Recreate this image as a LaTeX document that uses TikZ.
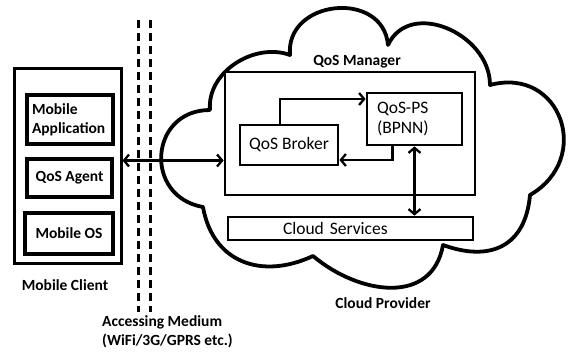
\documentclass[tikz,border=0pt]{standalone}
\usepackage{fontspec}
\setmainfont{Carlito}
\usetikzlibrary{arrows.meta}

\begin{document}
\begin{tikzpicture}[x=1pt,y=1pt,>={Straight Barb[length=5pt,width=12pt]}]
\tikzstyle{every node}+=[inner sep=0pt]
\tikzstyle{box}=[draw, line width=2.8pt, fill=white]
\tikzstyle{lbl}=[font=\fontsize{15.5}{19}\selectfont\bfseries]
\tikzstyle{txt}=[font=\fontsize{17.5}{20}\selectfont]
\tikzstyle{conn}=[line width=2.3pt]
\useasboundingbox (0,0) rectangle (571,-354);
\draw [line width=3.8pt, line cap=round, line join=round] (210,-110) to[out=95,in=160] (290,-55) to[out=95,in=95,looseness=1.45] (388,-45) to[out=65,in=90,looseness=1.2] (490,-85) to[out=15,in=30,looseness=1.6] (530,-195) to[out=-95,in=-20,looseness=1.3] (443,-245) to[out=-100,in=-40,looseness=1.2] (313,-256) to[out=-155,in=-80,looseness=1.2] (203,-207) to[out=170,in=180,looseness=1.6] (210,-110);
\coordinate (dla) at (138,-20);
\coordinate (dlb) at (138,-312);
\coordinate (dra) at (150,-20);
\coordinate (drb) at (150,-312);
\draw [line width=3pt, dash pattern=on 8pt off 5pt] (dla) -- (dlb);
\draw [line width=3pt, dash pattern=on 8pt off 5pt] (dra) -- (drb);
\node [box, line width=3pt, minimum width=107pt, minimum height=195pt] (client) at (67.5,-165.5) {};
\node [box, lbl, line width=3.2pt, minimum width=86pt, minimum height=49pt, align=left, text width=76pt] (app) at (70,-119.5) {Mobile\\Application};
\node [box, lbl, line width=3.2pt, minimum width=85pt, minimum height=38pt] (agent) at (69.5,-178) {QoS Agent};
\node [box, lbl, line width=3.2pt, minimum width=88pt, minimum height=41pt] (os) at (69,-233.5) {Mobile OS};
\node [lbl] (clientlbl) at (65,-285) {Mobile Client};
\node [box, minimum width=250pt, minimum height=123pt] (manager) at (350,-133.5) {};
\node [lbl] (managerlbl) at (357,-62) {QoS Manager};
\node [box, txt, minimum width=98pt, minimum height=40pt] (broker) at (289,-145) {QoS Broker};
\node [box, txt, minimum width=95pt, minimum height=52pt, align=left, text width=75pt] (ps) at (414.5,-119) {QoS-PS\\(BPNN)};
\node [box, txt, minimum width=245pt, minimum height=23pt, align=left, text width=135pt] (services) at (350.5,-228.5) {Cloud Services};
\node [lbl] (provider) at (383,-303) {Cloud Provider};
\node [lbl, align=left, anchor=west] (medium) at (102,-332) {Accessing Medium\\(WiFi/3G/GPRS etc.)};
\draw [conn, <->] ([yshift=5pt]client.east) -- ([yshift=5pt]client.east -| manager.west);
\draw [conn, ->] ([xshift=-9pt]broker.north) |- ([yshift=20pt]ps.west);
\draw [conn, ->] ([xshift=-22pt]ps.south) |- ([yshift=-15pt]broker.east);
\draw [conn, <->] (ps.south) -- (ps.south |- services.north);
\end{tikzpicture}
\end{document}
